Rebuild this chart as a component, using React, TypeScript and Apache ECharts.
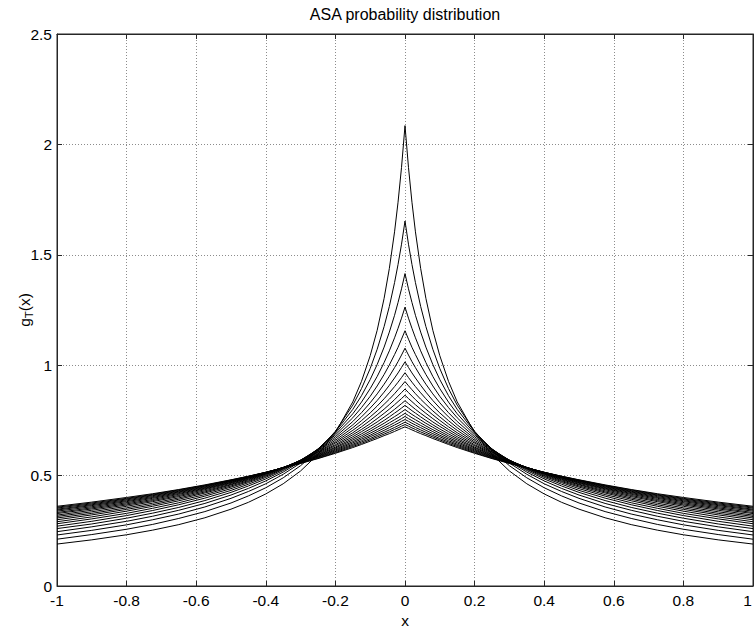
import React, { useEffect, useRef } from "react";
import * as echarts from "echarts";

// x positions (right half, mirrored for x < 0) at which curves were read
const X_HALF = [0, 0.01, 0.02, 0.03, 0.045, 0.06, 0.08, 0.1, 0.125, 0.15, 0.2, 0.25, 0.3, 0.35, 0.4, 0.45, 0.5, 0.575, 0.65, 0.725, 0.8, 0.9, 1];

// temperature of each curve
const T_VALUES = [0.1, 0.147, 0.195, 0.242, 0.289, 0.337, 0.384, 0.432, 0.479, 0.526, 0.574, 0.621, 0.668, 0.716, 0.763, 0.811, 0.858, 0.905, 0.953, 1.0];

// g_T(x) values read at X_HALF (curves symmetric about x = 0)
const G00 = [2.085, 1.896, 1.738, 1.604, 1.438, 1.303, 1.158, 1.043, 0.927, 0.834, 0.695, 0.596, 0.521, 0.463, 0.417, 0.379, 0.348, 0.309, 0.278, 0.253, 0.232, 0.209, 0.19];
const G01 = [1.653, 1.548, 1.456, 1.374, 1.266, 1.175, 1.072, 0.985, 0.894, 0.819, 0.701, 0.613, 0.545, 0.49, 0.445, 0.408, 0.376, 0.337, 0.306, 0.279, 0.257, 0.233, 0.212];
const G02 = [1.415, 1.346, 1.284, 1.226, 1.15, 1.082, 1.003, 0.935, 0.862, 0.8, 0.698, 0.62, 0.557, 0.506, 0.463, 0.428, 0.397, 0.358, 0.326, 0.3, 0.277, 0.252, 0.231];
const G03 = [1.263, 1.213, 1.167, 1.124, 1.065, 1.012, 0.949, 0.894, 0.833, 0.78, 0.692, 0.621, 0.564, 0.516, 0.476, 0.442, 0.412, 0.374, 0.343, 0.316, 0.293, 0.268, 0.246];
const G04 = [1.156, 1.118, 1.081, 1.048, 1.001, 0.958, 0.906, 0.859, 0.808, 0.762, 0.684, 0.62, 0.568, 0.523, 0.485, 0.453, 0.424, 0.387, 0.356, 0.33, 0.307, 0.281, 0.26];
const G05 = [1.077, 1.046, 1.016, 0.989, 0.95, 0.914, 0.87, 0.83, 0.785, 0.745, 0.676, 0.618, 0.57, 0.528, 0.492, 0.461, 0.433, 0.398, 0.368, 0.342, 0.319, 0.293, 0.271];
const G06 = [1.015, 0.99, 0.965, 0.942, 0.909, 0.878, 0.84, 0.806, 0.766, 0.73, 0.668, 0.615, 0.57, 0.531, 0.497, 0.468, 0.441, 0.407, 0.377, 0.352, 0.329, 0.304, 0.282];
const G07 = [0.966, 0.944, 0.923, 0.903, 0.875, 0.848, 0.815, 0.784, 0.749, 0.717, 0.66, 0.612, 0.57, 0.534, 0.501, 0.473, 0.448, 0.414, 0.386, 0.361, 0.339, 0.313, 0.291];
const G08 = [0.926, 0.907, 0.889, 0.871, 0.846, 0.823, 0.793, 0.766, 0.734, 0.705, 0.653, 0.608, 0.569, 0.535, 0.505, 0.477, 0.453, 0.421, 0.393, 0.368, 0.347, 0.322, 0.3];
const G09 = [0.892, 0.876, 0.86, 0.844, 0.822, 0.801, 0.775, 0.75, 0.721, 0.694, 0.647, 0.605, 0.568, 0.536, 0.507, 0.481, 0.458, 0.426, 0.399, 0.375, 0.354, 0.329, 0.308];
const G10 = [0.864, 0.849, 0.835, 0.821, 0.801, 0.782, 0.758, 0.735, 0.709, 0.685, 0.64, 0.602, 0.567, 0.536, 0.509, 0.484, 0.461, 0.431, 0.405, 0.382, 0.361, 0.336, 0.315];
const G11 = [0.839, 0.826, 0.813, 0.8, 0.782, 0.765, 0.743, 0.723, 0.699, 0.676, 0.635, 0.598, 0.566, 0.537, 0.51, 0.487, 0.465, 0.436, 0.41, 0.387, 0.367, 0.343, 0.321];
const G12 = [0.818, 0.806, 0.794, 0.783, 0.766, 0.75, 0.73, 0.711, 0.689, 0.668, 0.629, 0.595, 0.564, 0.537, 0.512, 0.489, 0.468, 0.44, 0.415, 0.392, 0.372, 0.349, 0.328];
const G13 = [0.799, 0.788, 0.777, 0.767, 0.752, 0.737, 0.719, 0.701, 0.68, 0.661, 0.625, 0.592, 0.563, 0.537, 0.513, 0.491, 0.47, 0.443, 0.419, 0.397, 0.377, 0.354, 0.333];
const G14 = [0.782, 0.772, 0.762, 0.753, 0.739, 0.725, 0.708, 0.692, 0.672, 0.654, 0.62, 0.589, 0.562, 0.536, 0.513, 0.492, 0.473, 0.446, 0.423, 0.401, 0.382, 0.359, 0.339];
const G15 = [0.768, 0.758, 0.749, 0.74, 0.727, 0.715, 0.699, 0.683, 0.665, 0.648, 0.616, 0.587, 0.56, 0.536, 0.514, 0.494, 0.475, 0.449, 0.426, 0.405, 0.386, 0.364, 0.344];
const G16 = [0.754, 0.746, 0.737, 0.729, 0.717, 0.705, 0.69, 0.676, 0.658, 0.642, 0.612, 0.584, 0.559, 0.536, 0.514, 0.495, 0.477, 0.452, 0.429, 0.409, 0.39, 0.368, 0.348];
const G17 = [0.742, 0.734, 0.726, 0.718, 0.707, 0.696, 0.682, 0.668, 0.652, 0.637, 0.608, 0.582, 0.557, 0.535, 0.515, 0.496, 0.478, 0.454, 0.432, 0.412, 0.394, 0.372, 0.353];
const G18 = [0.731, 0.724, 0.716, 0.709, 0.698, 0.688, 0.675, 0.662, 0.646, 0.632, 0.604, 0.579, 0.556, 0.535, 0.515, 0.497, 0.48, 0.456, 0.435, 0.415, 0.397, 0.376, 0.357];
const G19 = [0.721, 0.714, 0.707, 0.7, 0.69, 0.681, 0.668, 0.656, 0.641, 0.627, 0.601, 0.577, 0.555, 0.534, 0.515, 0.497, 0.481, 0.458, 0.437, 0.418, 0.401, 0.38, 0.361];

const CURVES = [G00, G01, G02, G03, G04, G05, G06, G07, G08, G09, G10, G11, G12, G13, G14, G15, G16, G17, G18, G19];

const X_TICKS = { min: -1, max: 1, interval: 0.2 };
const Y_TICKS = { min: 0, max: 2.5, interval: 0.5 };

const FONT = "'Liberation Sans', Arial, Helvetica, sans-serif";
const AXIS_COLOR = "#262626";

function buildData(vals: number[]): [number, number][] {
  const out: [number, number][] = [];
  for (let i = X_HALF.length - 1; i >= 1; i--) out.push([-X_HALF[i], vals[i]]);
  for (let i = 0; i < X_HALF.length; i++) out.push([X_HALF[i], vals[i]]);
  return out;
}

export default function App() {
  const ref = useRef<HTMLDivElement>(null);
  useEffect(() => {
    if (!ref.current) return;
    const chart = echarts.init(ref.current, undefined, { renderer: "svg" });
    const splitLine = { show: true, lineStyle: { color: "#8c8c8c", type: [1, 2] as any, width: 1 } };
    const tickLabel = { color: "#000", fontFamily: FONT, fontSize: 15.5 };
    const option: any = {
      animation: false,
      backgroundColor: "#fff",
      title: {
        text: "ASA probability distribution",
        left: 405,
        textAlign: "center",
        top: 6,
        padding: 0,
        textStyle: { fontFamily: FONT, fontSize: 16, fontWeight: "normal", color: "#000" },
      },
      grid: {
        left: 57,
        right: 1,
        top: 34,
        bottom: 43,
        containLabel: false,
        outerBoundsMode: "none",
        show: true,
        borderColor: AXIS_COLOR,
        borderWidth: 1,
        backgroundColor: "transparent",
      },
      xAxis: [
        {
          type: "value",
          min: X_TICKS.min,
          max: X_TICKS.max,
          interval: X_TICKS.interval,
          position: "bottom",
          name: "x",
          nameLocation: "middle",
          nameGap: 20,
          nameTextStyle: { color: "#000", fontFamily: FONT, fontSize: 15.5 },
          axisLine: { show: true, onZero: false, lineStyle: { color: AXIS_COLOR } },
          axisTick: { show: true, inside: true, length: 5, lineStyle: { color: AXIS_COLOR } },
          axisLabel: {
            ...tickLabel,
            margin: 6,
            formatter: (v: number) => (v >= X_TICKS.max - 1e-9 ? "{edge|" + v + "}" : String(+v.toFixed(1))),
            rich: { edge: { ...tickLabel, padding: [0, 11, 0, 0] } },
          },
          splitLine,
        },
        {
          type: "value",
          min: X_TICKS.min,
          max: X_TICKS.max,
          interval: X_TICKS.interval,
          position: "top",
          axisLine: { show: true, onZero: false, lineStyle: { color: AXIS_COLOR } },
          axisTick: { show: true, inside: true, length: 5, lineStyle: { color: AXIS_COLOR } },
          axisLabel: { show: false },
          splitLine: { show: false },
        },
      ],
      yAxis: [
        {
          type: "value",
          min: Y_TICKS.min,
          max: Y_TICKS.max,
          interval: Y_TICKS.interval,
          position: "left",
          axisLine: { show: true, onZero: false, lineStyle: { color: AXIS_COLOR } },
          axisTick: { show: true, inside: true, length: 5, lineStyle: { color: AXIS_COLOR } },
          axisLabel: { ...tickLabel, margin: 5 },
          splitLine,
        },
        {
          type: "value",
          min: Y_TICKS.min,
          max: Y_TICKS.max,
          interval: Y_TICKS.interval,
          position: "right",
          axisLine: { show: true, onZero: false, lineStyle: { color: AXIS_COLOR } },
          axisTick: { show: true, inside: true, length: 5, lineStyle: { color: AXIS_COLOR } },
          axisLabel: { show: false },
          splitLine: { show: false },
        },
      ],
      graphic: [
        {
          type: "text",
          x: 24,
          y: 310,
          rotation: Math.PI / 2,
          style: {
            text: "{a|g}{b|T}{a|(x)}",
            align: "center",
            verticalAlign: "middle",
            fill: "#000",
            rich: {
              a: { fontFamily: FONT, fontSize: 15.5, fill: "#000", lineHeight: 18 },
              b: { fontFamily: FONT, fontSize: 11.5, fill: "#000", padding: [9, 0, 0, 0], lineHeight: 18 },
            },
          },
        },
      ],
      series: CURVES.map((vals, i) => ({
        type: "line",
        name: "T=" + T_VALUES[i],
        xAxisIndex: 0,
        yAxisIndex: 0,
        data: buildData(vals),
        showSymbol: false,
        symbol: "none",
        silent: true,
        lineStyle: { color: "#000", width: 1 },
      })),
    };
    chart.setOption(option);
    return () => chart.dispose();
  }, []);
  return (
    <div
      ref={ref}
      style={{ position: "fixed", left: 0, top: 0, width: 754, height: 629, background: "#fff" }}
    />
  );
}
